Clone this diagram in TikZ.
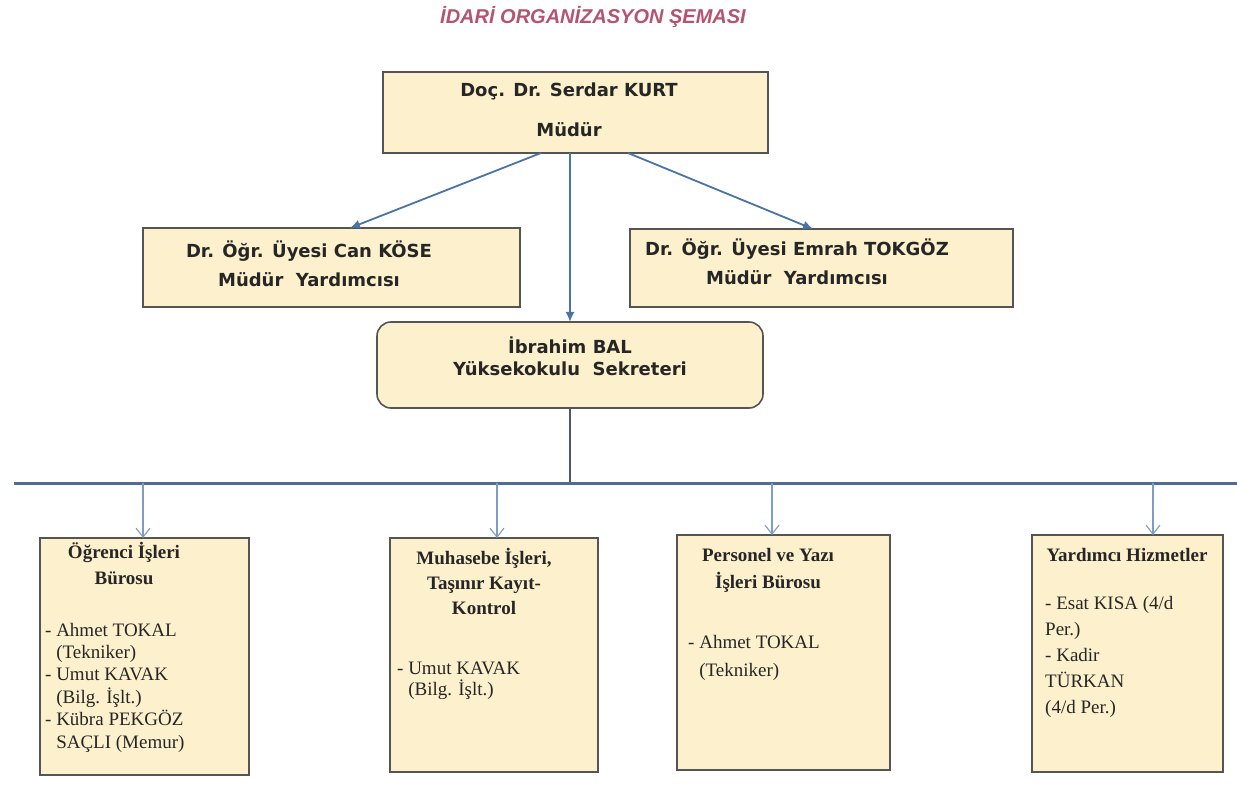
\documentclass[tikz,border=0pt]{standalone}
\usepackage{fontspec}
\setmainfont{Liberation Serif}
\newfontfamily\djfont{DejaVu Sans}
\newfontfamily\lsfont{Liberation Sans}
\usetikzlibrary{arrows.meta}
\definecolor{boxfill}{HTML}{FDF0CC}
\definecolor{boxline}{HTML}{555555}
\definecolor{arrowblue}{HTML}{4A74A4}
\definecolor{subblue}{HTML}{7F9CC2}
\definecolor{hlcol}{HTML}{4E6C94}
\definecolor{vlcol}{HTML}{4F5868}
\definecolor{titlecol}{HTML}{B5546C}
\tikzset{
  topbox/.style={draw=boxline, line width=1.6pt, fill=boxfill, inner sep=0pt, outer sep=0pt},
  botbox/.style={draw=boxline, line width=2pt, fill=boxfill, inner sep=0pt, outer sep=0pt},
  toparrow/.style={draw=arrowblue, line width=1.8pt, -{Latex[length=10pt,width=9pt]}},
  subarrow/.style={draw=subblue, line width=1.1pt, -{Straight Barb[length=9pt,width=14pt]}},
  sanstxt/.style={font={\djfont\bfseries\fontsize{18}{#1}\selectfont}, align=center, anchor=base, inner sep=0pt, text=black!85},
  headtxt/.style={font={\bfseries\fontsize{19}{#1}\selectfont}, align=center, anchor=base, inner sep=0pt, text=black!85},
  itemtxt/.style={font={\fontsize{19}{#1}\selectfont}, align=left, anchor=base west, inner sep=0pt, text=black!85},
}
\begin{document}
\begin{tikzpicture}[x=1pt,y=-1pt]
\useasboundingbox (0,0) rectangle (1237,791);
\fill[white] (0,0) rectangle (1237,791);

% title
\node[font={\lsfont\bfseries\itshape\fontsize{20}{24}\selectfont}, text=titlecol, anchor=base, inner sep=0pt] (title) at (593,23.5) {İDARİ ORGANİZASYON ŞEMASI};

% upper boxes
\node[topbox, minimum width=385pt, minimum height=81pt] (mudur) at (575.5,112.5) {};
\node[topbox, minimum width=377pt, minimum height=79pt] (yard1) at (331.5,267.5) {};
\node[topbox, minimum width=383pt, minimum height=78pt] (yard2) at (821.5,268) {};
\node[topbox, rounded corners=14pt, minimum width=386pt, minimum height=86pt] (sek) at (570,365) {};

% (multi-line nodes: base = last line's baseline)
\node[sanstxt=40] (tmudur) at (569,136.5) {Doç. Dr. Serdar KURT\\Müdür};
\node[sanstxt=29] (tyard1) at (309,286.5) {Dr. Öğr. Üyesi Can KÖSE\\Müdür\ \ Yardımcısı};
\node[sanstxt=29] (tyard2) at (797,284.5) {Dr. Öğr. Üyesi Emrah TOKGÖZ\\Müdür\ \ Yardımcısı};
\node[sanstxt=22] (tsek) at (570,375.5) {İbrahim BAL\\Yüksekokulu\ \ Sekreteri};

% arrows from Müdür
\draw[toparrow] ([xshift=-34.5pt]mudur.south) -- ([xshift=18.5pt]yard1.north);
\draw[toparrow] (sek.north |- mudur.south) -- (sek.north);
\draw[toparrow] ([xshift=52.5pt]mudur.south) -- ([xshift=-8.5pt]yard2.north);

% bus line
\coordinate (hl) at (14,483);
\coordinate (hr) at (1237,483);
\draw[vlcol, line width=2.5pt] (sek.south) -- (sek.south |- hl);
\draw[hlcol, line width=3pt] (hl) -- (hr);

% lower boxes
\node[botbox, minimum width=209pt, minimum height=237pt] (b1) at (144.5,656.5) {};
\node[botbox, minimum width=208pt, minimum height=234pt] (b2) at (494,655) {};
\node[botbox, minimum width=213pt, minimum height=235pt] (b3) at (783.5,652.5) {};
\node[botbox, minimum width=191pt, minimum height=237pt] (b4) at (1127.5,653.5) {};

\coordinate (a1) at (143,483);
\coordinate (a2) at (497,483);
\coordinate (a3) at (772,483);
\coordinate (a4) at (1153,483);
\draw[subarrow] (a1) -- (a1 |- b1.north);
\draw[subarrow] (a2) -- (a2 |- b2.north);
\draw[subarrow] (a3) -- (a3 |- b3.north);
\draw[subarrow] (a4) -- (a4 |- b4.north);

% lower texts
\node[headtxt=26] (h1) at (124,584) {Öğrenci İşleri\\Bürosu};
\node[itemtxt=22.4] (i1) at (45,748) {- Ahmet TOKAL\\\phantom{- }(Tekniker)\\- Umut KAVAK\\\phantom{- }(Bilg. İşlt.)\\- Kübra PEKGÖZ\\\phantom{- }SAÇLI (Memur)};

\node[headtxt=25] (h2) at (484,614) {Muhasebe İşleri,\\Taşınır Kayıt-\\Kontrol};
\node[itemtxt=21] (i2) at (397,695) {- Umut KAVAK\\\phantom{- }(Bilg. İşlt.)};

\node[headtxt=27] (h3) at (768,588) {Personel ve Yazı\\İşleri Bürosu};
\node[itemtxt=28] (i3) at (688,676) {- Ahmet TOKAL\\\phantom{- }(Tekniker)};

\node[headtxt=26] (h4) at (1127,561) {Yardımcı Hizmetler};
\node[itemtxt=26] (i4) at (1045,713) {- Esat KISA (4/d\\Per.)\\- Kadir\\TÜRKAN\\(4/d Per.)};
\end{tikzpicture}
\end{document}
